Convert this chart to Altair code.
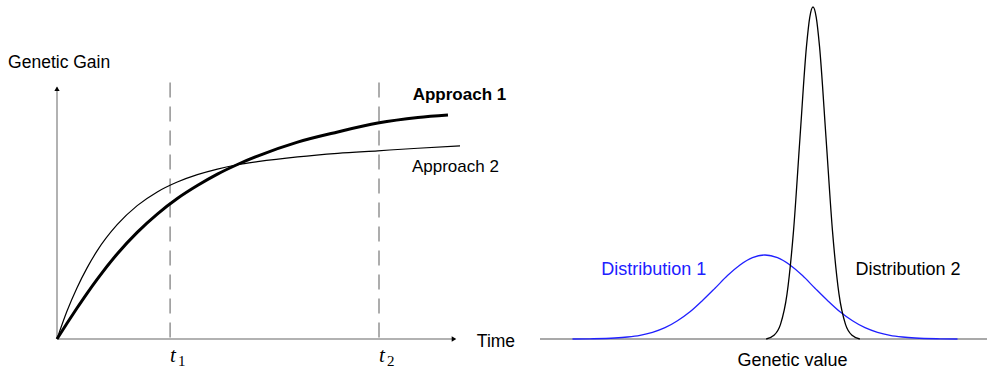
import altair as alt
import pandas as pd

# ---- left panel: genetic gain over time ----
approach1_time = [0.0, 0.25, 0.5, 0.75, 1.0, 1.5, 2.0, 2.5, 3.0, 3.5, 4.0, 4.5, 5.0, 6.0, 7.0, 8.0, 9.0, 9.75]
approach1_gain = [0.0, 0.62, 1.22, 1.80, 2.35, 3.35, 4.20, 4.92, 5.53, 6.04, 6.49, 6.87, 7.20, 7.75, 8.15, 8.50, 8.72, 8.82]

approach2_time = [0.0, 0.25, 0.5, 0.75, 1.0, 1.5, 2.0, 2.5, 3.0, 3.5, 4.0, 4.5, 5.0, 6.0, 7.0, 8.0, 9.0, 10.05]
approach2_gain = [0.0, 1.10, 2.02, 2.80, 3.47, 4.50, 5.25, 5.79, 6.18, 6.47, 6.69, 6.86, 6.98, 7.17, 7.31, 7.41, 7.51, 7.60]

marker_times = [2.82, 8.03]
marker_subscripts = ["1", "2"]

# ---- right panel: two distributions of genetic value ----
dist1_x = [-3.85, -3.5, -3.0, -2.75, -2.5, -2.25, -2.0, -1.75, -1.5, -1.25, -1.0, -0.75,
           -0.5, -0.25, 0.0, 0.25, 0.5, 0.75, 1.0, 1.25, 1.5, 1.75, 2.0, 2.25, 2.5,
           2.75, 3.0, 3.5, 3.85]
dist1_y = [0.0, 0.0006, 0.003, 0.006, 0.011, 0.020, 0.034, 0.055, 0.082, 0.116, 0.153, 0.191,
           0.223, 0.245, 0.253, 0.245, 0.223, 0.191, 0.153, 0.116, 0.082, 0.055, 0.034, 0.020,
           0.011, 0.006, 0.003, 0.0006, 0.0]

dist2_x = [0.024, 0.18, 0.31, 0.44, 0.57, 0.70, 0.83, 0.895, 0.96, 1.025, 1.09, 1.22, 1.35,
           1.48, 1.61, 1.74, 1.896]
dist2_y = [0.0, 0.011, 0.044, 0.135, 0.325, 0.607, 0.882, 0.969, 1.0, 0.969, 0.882, 0.607,
           0.325, 0.135, 0.044, 0.011, 0.0]

SANS = "Liberation Sans"
SERIF = "Liberation Serif"

# pixel ranges of the two panels
LX = alt.Scale(domain=[0, 10], range=[57, 458], nice=False, zero=False)
LY = alt.Scale(domain=[0, 10], range=[339, 85], nice=False, zero=False)
RX = alt.Scale(domain=[-4.5, 4.44], range=[540, 987], nice=False, zero=False)
RY = alt.Scale(domain=[0, 1], range=[339, 7], nice=False, zero=False)


def lx(field):
    return alt.X(field, type="quantitative", scale=LX, axis=None)


def ly(field):
    return alt.Y(field, type="quantitative", scale=LY, axis=None)


def rx(field):
    return alt.X(field, type="quantitative", scale=RX, axis=None)


def ry(field):
    return alt.Y(field, type="quantitative", scale=RY, axis=None)


a1 = pd.DataFrame({"t": approach1_time, "g": approach1_gain})
a2 = pd.DataFrame({"t": approach2_time, "g": approach2_gain})
markers = pd.DataFrame({"t": marker_times, "sub": marker_subscripts,
                        "lo": [0.0, 0.0], "hi": [10.1, 10.1],
                        "lab": ["t", "t"], "ty": [-0.91, -0.91]})

# axes with arrowheads
yaxis = alt.Chart(pd.DataFrame({"x": [0.0], "y": [0.0], "y2": [9.9]})).mark_rule(
    color="#999999", strokeWidth=1.5).encode(x=lx("x"), y=ly("y"), y2="y2")
xaxis = alt.Chart(pd.DataFrame({"x": [0.0], "x2": [9.9], "y": [0.0]})).mark_rule(
    color="#999999", strokeWidth=1.5).encode(x=lx("x"), x2="x2", y=ly("y"))
yarrow = alt.Chart(pd.DataFrame({"x": [0.0], "y": [9.85]})).mark_point(
    shape="triangle-up", filled=True, color="black", size=28, opacity=1).encode(x=lx("x"), y=ly("y"))
xarrow = alt.Chart(pd.DataFrame({"x": [9.9], "y": [0.0]})).mark_point(
    shape="triangle-right", filled=True, color="black", size=28, opacity=1).encode(x=lx("x"), y=ly("y"))

dashes = alt.Chart(markers).mark_rule(
    color="#777777", strokeWidth=1.2, strokeDash=[15, 9]).encode(x=lx("t"), y=ly("hi"), y2="lo")

line1 = alt.Chart(a1).mark_line(color="black", strokeWidth=3, interpolate="monotone").encode(
    x=lx("t"), y=ly("g"))
line2 = alt.Chart(a2).mark_line(color="black", strokeWidth=1.2, interpolate="monotone").encode(
    x=lx("t"), y=ly("g"))

t_main = alt.Chart(markers).mark_text(
    font=SERIF, fontStyle="italic", fontSize=21, align="left", baseline="alphabetic",
    color="black").encode(x=lx("t"), y=ly("ty"), text="lab:N")
t_sub = alt.Chart(markers).mark_text(
    font=SERIF, fontSize=15, align="left", baseline="alphabetic", dx=8, dy=4,
    color="black").encode(x=lx("t"), y=ly("ty"), text="sub:N")

left_labels = pd.DataFrame({
    "x": [-1.22, 10.47],
    "y": [10.67, -0.31],
    "label": ["Genetic Gain", "Time"],
})
left_text = alt.Chart(left_labels).mark_text(
    font=SANS, fontSize=17.5, align="left", baseline="alphabetic", color="black").encode(
    x=lx("x"), y=ly("y"), text="label:N")

ap1 = alt.Chart(pd.DataFrame({"x": [8.87], "y": [9.41], "label": ["Approach 1"]})).mark_text(
    font=SANS, fontSize=17, fontWeight="bold", align="left", baseline="alphabetic",
    color="black").encode(x=lx("x"), y=ly("y"), text="label:N")
ap2 = alt.Chart(pd.DataFrame({"x": [8.85], "y": [6.59], "label": ["Approach 2"]})).mark_text(
    font=SANS, fontSize=17, align="left", baseline="alphabetic",
    color="black").encode(x=lx("x"), y=ly("y"), text="label:N")

# right panel
d1 = pd.DataFrame({"x": dist1_x, "y": dist1_y})
d2 = pd.DataFrame({"x": dist2_x, "y": dist2_y})

baseline = alt.Chart(pd.DataFrame({"x": [-4.5], "x2": [4.44], "y": [0.0]})).mark_rule(
    color="#555555", strokeWidth=1.2).encode(x=rx("x"), x2="x2", y=ry("y"))
curve1 = alt.Chart(d1).mark_line(color="#2020ff", strokeWidth=1.3, interpolate="monotone").encode(
    x=rx("x"), y=ry("y"))
curve2 = alt.Chart(d2).mark_line(color="black", strokeWidth=1.3, interpolate="monotone").encode(
    x=rx("x"), y=ry("y"))

dist_labels = pd.DataFrame({
    "x": [-2.226, 2.86],
    "y": [0.193, 0.193],
    "label": ["Distribution 1", "Distribution 2"],
    "c": ["#2020ff", "black"],
})
dist_text = alt.Chart(dist_labels).mark_text(
    font=SANS, fontSize=18, align="center", baseline="alphabetic").encode(
    x=rx("x"), y=ry("y"), text="label:N", color=alt.Color("c:N", scale=None))
gv_text = alt.Chart(pd.DataFrame({"x": [0.55], "y": [-0.081], "label": ["Genetic value"]})).mark_text(
    font=SANS, fontSize=18, align="center", baseline="alphabetic", color="black").encode(
    x=rx("x"), y=ry("y"), text="label:N")

chart = alt.layer(
    yaxis, xaxis, yarrow, xarrow, dashes, line2, line1, t_main, t_sub, left_text, ap1, ap2,
    baseline, curve1, curve2, dist_text, gv_text,
).resolve_scale(
    x="independent", y="independent"
).properties(
    width=987, height=373, padding=0,
    autosize=alt.AutoSizeParams(type="none"),
).configure_view(stroke=None)

chart.save("out.html", embed_options={"renderer": "svg", "actions": False})
